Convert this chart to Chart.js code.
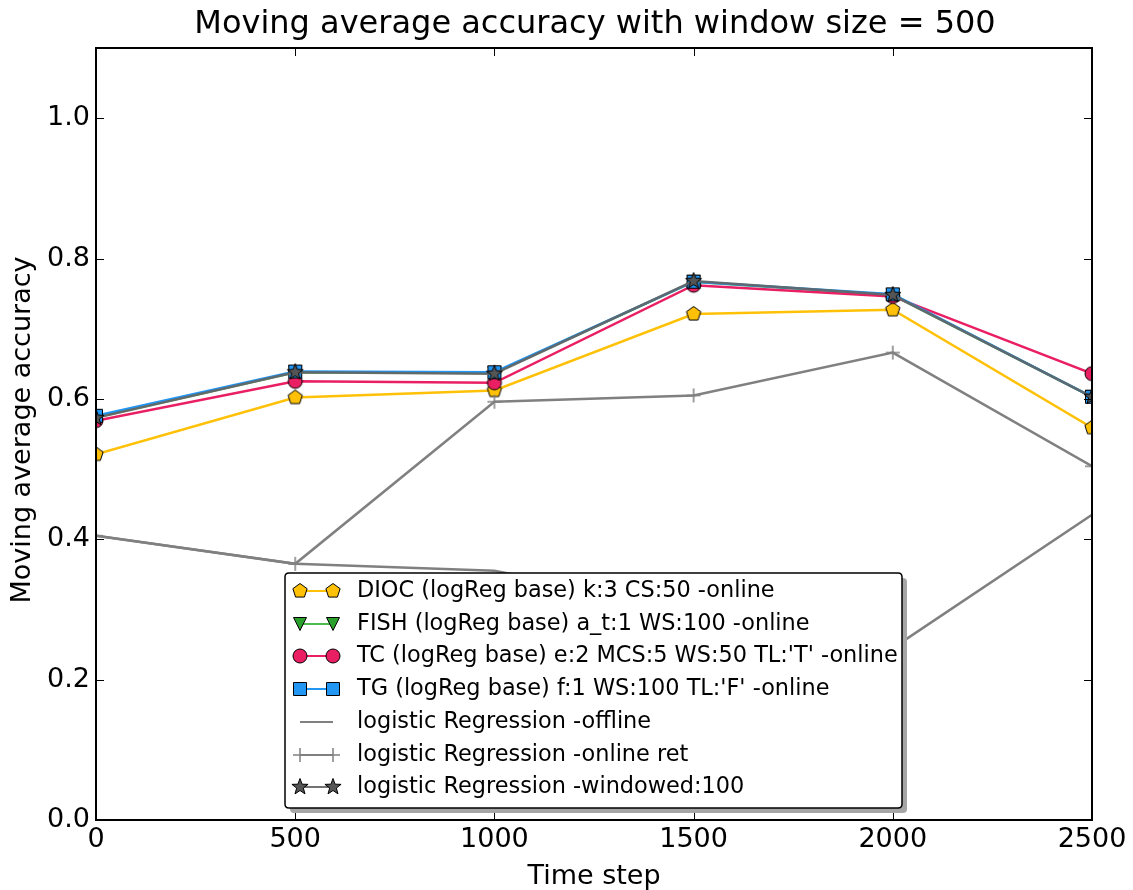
<!DOCTYPE html>
<html>
<head>
<meta charset="utf-8">
<script src="https://cdn.jsdelivr.net/npm/chart.js@4"></script>
<style>
  html, body { margin: 0; padding: 0; background: #fff; }
  #wrap { width: 1133px; height: 890px; }
</style>
</head>
<body>
<div id="wrap"><canvas id="accChart" width="1133" height="890"></canvas></div>
<script>
var timeSteps = [0, 500, 1000, 1500, 2000, 2500];
var diocValues = [0.521, 0.602, 0.612, 0.721, 0.727, 0.559];
var fishValues = [0.574, 0.638, 0.637, 0.767, 0.748, 0.603];
var tcValues = [0.569, 0.625, 0.623, 0.762, 0.746, 0.636];
var tgValues = [0.576, 0.639, 0.638, 0.767, 0.749, 0.603];
var offlineValues = [0.405, 0.365, 0.355, 0.300, 0.245, 0.435];
var onlineRetValues = [0.405, 0.365, 0.596, 0.605, 0.666, 0.504];
var windowedValues = [0.573, 0.638, 0.636, 0.768, 0.748, 0.603];

var xTickValues = [0, 500, 1000, 1500, 2000, 2500];
var yTickValues = [0, 0.2, 0.4, 0.6, 0.8, 1.0];

var seriesLabels = [
  'DIOC (logReg base) k:3 CS:50 -online',
  'FISH (logReg base) a_t:1 WS:100 -online',
  "TC (logReg base) e:2 MCS:5 WS:50 TL:'T' -online",
  "TG (logReg base) f:1 WS:100 TL:'F' -online",
  'logistic Regression -offline',
  'logistic Regression -online ret',
  'logistic Regression -windowed:100'
];

var FONT = "'DejaVu Sans', 'Liberation Sans', sans-serif";

// small canvases used as point styles
function makeMarker(size, draw) {
  var c = document.createElement('canvas');
  c.width = size;
  c.height = size;
  var ctx = c.getContext('2d');
  ctx.translate(size / 2, size / 2);
  draw(ctx);
  return c;
}

function fillPoly(ctx, pts, fill) {
  ctx.beginPath();
  pts.forEach(function(p, i) {
    if (i === 0) ctx.moveTo(p[0], p[1]); else ctx.lineTo(p[0], p[1]);
  });
  ctx.closePath();
  ctx.fillStyle = fill;
  ctx.fill();
  ctx.lineWidth = 1;
  ctx.strokeStyle = '#000';
  ctx.stroke();
}

function regularPts(n, r, startDeg) {
  var pts = [];
  for (var i = 0; i < n; i++) {
    var a = (startDeg + i * 360 / n) * Math.PI / 180;
    pts.push([r * Math.cos(a), r * Math.sin(a)]);
  }
  return pts;
}

var pentagonMarker = makeMarker(20, function(ctx) {
  fillPoly(ctx, regularPts(5, 7.5, -90), '#FFC107');
});
var triangleMarker = makeMarker(20, function(ctx) {
  fillPoly(ctx, [[-6.5, -6.5], [6.5, -6.5], [0, 6.5]], '#2CA02C');
});
var circleMarker = makeMarker(20, function(ctx) {
  ctx.beginPath();
  ctx.arc(0, 0, 7, 0, Math.PI * 2);
  ctx.fillStyle = '#E91E63';
  ctx.fill();
  ctx.lineWidth = 1;
  ctx.strokeStyle = '#000';
  ctx.stroke();
});
var squareMarker = makeMarker(20, function(ctx) {
  fillPoly(ctx, [[-6.5, -6.5], [6.5, -6.5], [6.5, 6.5], [-6.5, 6.5]], '#2196F3');
});
var starMarker = makeMarker(22, function(ctx) {
  var pts = [];
  for (var i = 0; i < 10; i++) {
    var r = i % 2 === 0 ? 8.5 : 3.5;
    var a = (-90 + i * 36) * Math.PI / 180;
    pts.push([r * Math.cos(a), r * Math.sin(a)]);
  }
  fillPoly(ctx, pts, '#555555');
});
var plusMarker = makeMarker(20, function(ctx) {
  ctx.strokeStyle = '#808080';
  ctx.lineWidth = 1.5;
  ctx.beginPath();
  ctx.moveTo(-7, 0); ctx.lineTo(7, 0);
  ctx.moveTo(0, -7); ctx.lineTo(0, 7);
  ctx.stroke();
});

function toPoints(values) {
  return timeSteps.map(function(t, i) { return { x: t, y: values[i] }; });
}

function series(label, values, color, marker, order) {
  return {
    label: label,
    data: toPoints(values),
    borderColor: color,
    backgroundColor: color,
    borderWidth: 2.5,
    tension: 0,
    pointStyle: marker || 'circle',
    pointRadius: marker ? 7 : 0,
    clip: 0,
    order: order
  };
}

var datasets = [
  series(seriesLabels[0], diocValues, '#FFC107', pentagonMarker, 7),
  series(seriesLabels[1], fishValues, '#4CBB4C', triangleMarker, 6),
  series(seriesLabels[2], tcValues, '#E91E63', circleMarker, 5),
  series(seriesLabels[3], tgValues, '#2196F3', squareMarker, 4),
  series(seriesLabels[4], offlineValues, '#808080', null, 3),
  series(seriesLabels[5], onlineRetValues, '#808080', plusMarker, 2),
  series(seriesLabels[6], windowedValues, 'rgba(100, 100, 100, 0.9)', starMarker, 1)
];

function roundRect(ctx, x, y, w, h, r) {
  ctx.beginPath();
  ctx.moveTo(x + r, y);
  ctx.lineTo(x + w - r, y);
  ctx.quadraticCurveTo(x + w, y, x + w, y + r);
  ctx.lineTo(x + w, y + h - r);
  ctx.quadraticCurveTo(x + w, y + h, x + w - r, y + h);
  ctx.lineTo(x + r, y + h);
  ctx.quadraticCurveTo(x, y + h, x, y + h - r);
  ctx.lineTo(x, y + r);
  ctx.quadraticCurveTo(x, y, x + r, y);
  ctx.closePath();
}

var frameAndLegend = {
  id: 'frameAndLegend',
  afterDatasetsDraw: function(chart) {
    var ctx = chart.ctx;
    var area = chart.chartArea;
    var xs = chart.scales.x;
    var ys = chart.scales.y;
    ctx.save();
    ctx.strokeStyle = '#000';
    ctx.lineWidth = 1;
    ctx.beginPath();
    xTickValues.forEach(function(v) {
      var px = Math.round(xs.getPixelForValue(v)) + 0.5;
      ctx.moveTo(px, area.bottom); ctx.lineTo(px, area.bottom - 8);
      ctx.moveTo(px, area.top); ctx.lineTo(px, area.top + 8);
    });
    yTickValues.forEach(function(v) {
      var py = Math.round(ys.getPixelForValue(v)) + 0.5;
      ctx.moveTo(area.left, py); ctx.lineTo(area.left + 8, py);
      ctx.moveTo(area.right, py); ctx.lineTo(area.right - 8, py);
    });
    ctx.stroke();
    ctx.lineWidth = 2;
    ctx.strokeRect(area.left, area.top, area.right - area.left, area.bottom - area.top);

    // titles
    ctx.fillStyle = '#000';
    ctx.textAlign = 'center';
    ctx.textBaseline = 'middle';
    ctx.font = '32px ' + FONT;
    ctx.fillText('Moving average accuracy with window size = 500', (area.left + area.right) / 2 + 1, 25);
    ctx.font = '27px ' + FONT;
    ctx.fillText('Time step', (area.left + area.right) / 2, 877);
    ctx.save();
    ctx.translate(23, (area.top + area.bottom) / 2 - 4);
    ctx.rotate(-Math.PI / 2);
    ctx.fillText('Moving average accuracy', 0, 0);
    ctx.restore();
    ctx.restore();
  },
  afterDraw: function(chart) {
    var ctx = chart.ctx;
    var box = { x: 285, y: 573, w: 617, h: 235 };
    ctx.save();
    ctx.fillStyle = '#a6a6a6';
    roundRect(ctx, box.x + 5, box.y + 5, box.w, box.h, 4);
    ctx.fill();
    ctx.fillStyle = '#fff';
    roundRect(ctx, box.x, box.y, box.w, box.h, 4);
    ctx.fill();
    ctx.strokeStyle = '#000';
    ctx.lineWidth = 1.5;
    ctx.stroke();

    ctx.font = '22.4px ' + FONT;
    ctx.textAlign = 'left';
    ctx.textBaseline = 'middle';
    var rowH = 32.7;
    chart.data.datasets.forEach(function(ds, i) {
      var cy = Math.round(591 + i * rowH);
      ctx.strokeStyle = ds.borderColor;
      ctx.lineWidth = 2;
      ctx.beginPath();
      ctx.moveTo(300, cy);
      ctx.lineTo(333, cy);
      ctx.stroke();
      if (ds.pointRadius > 0) {
        [300, 333].forEach(function(mx) {
          ctx.drawImage(ds.pointStyle, mx - ds.pointStyle.width / 2, cy - ds.pointStyle.height / 2);
        });
      }
      ctx.fillStyle = '#000';
      ctx.fillText(ds.label, 357, cy);
    });
    ctx.restore();
  }
};

new Chart(document.getElementById('accChart').getContext('2d'), {
  type: 'line',
  data: { datasets: datasets },
  options: {
    responsive: false,
    animation: false,
    events: [],
    layout: { padding: { top: 48, right: 41, left: 0, bottom: 0 } },
    plugins: {
      legend: { display: false },
      tooltip: { enabled: false },
      title: { display: false }
    },
    scales: {
      x: {
        type: 'linear',
        min: 0,
        max: 2500,
        afterBuildTicks: function(scale) {
          scale.ticks = xTickValues.map(function(v) { return { value: v }; });
        },
        afterFit: function(scale) { scale.height = 70; },
        grid: { display: false, drawTicks: false },
        border: { display: false },
        ticks: {
          color: '#000',
          font: { family: FONT, size: 27 },
          padding: 4,
          maxRotation: 0,
          autoSkip: false,
          callback: function(v) { return String(v); }
        }
      },
      y: {
        type: 'linear',
        min: 0,
        max: 1.1,
        afterBuildTicks: function(scale) {
          scale.ticks = yTickValues.map(function(v) { return { value: v }; });
        },
        afterFit: function(scale) { scale.width = 96; },
        grid: { display: false, drawTicks: false },
        border: { display: false },
        ticks: {
          color: '#000',
          font: { family: FONT, size: 27 },
          padding: 6,
          callback: function(v) { return Number(v).toFixed(1); }
        }
      }
    }
  },
  plugins: [frameAndLegend]
});
</script>
</body>
</html>
